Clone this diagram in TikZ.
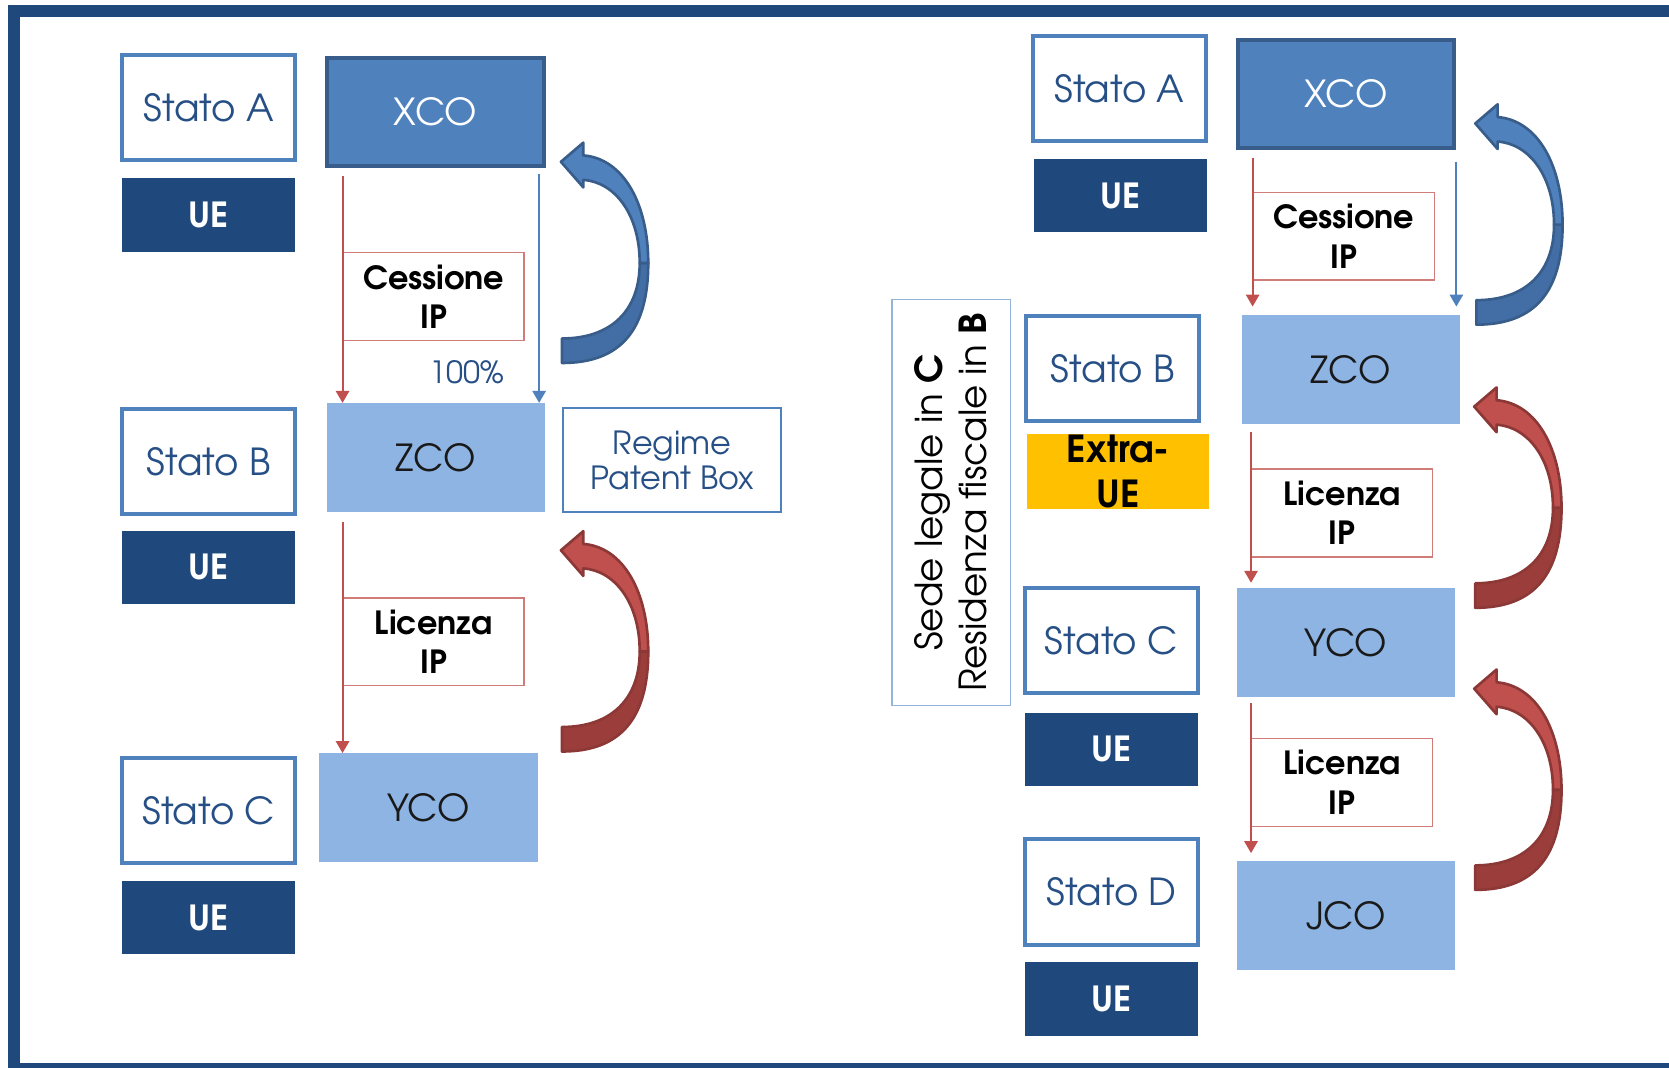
\documentclass[tikz,border=0pt]{standalone}
\usepackage{fontspec}
\setmainfont{texgyreadventor}[Extension=.otf,UprightFont=*-regular,BoldFont=*-bold]
\usetikzlibrary{arrows.meta}
\definecolor{ueblue}{HTML}{1F497D}
\definecolor{accent}{HTML}{4F81BD}
\definecolor{accentdark}{HTML}{385D8A}
\definecolor{bluefold}{HTML}{426EA5}
\definecolor{lightblue}{HTML}{8EB4E3}
\definecolor{redline}{HTML}{C0504D}
\definecolor{reddark}{HTML}{9B3E3B}
\definecolor{rededge}{HTML}{8C3836}
\definecolor{textblue}{HTML}{264F86}
\definecolor{sedeline}{HTML}{95B3D7}
\definecolor{extra}{HTML}{FFC000}
\tikzset{
	statebox/.style={draw=accent, line width=3pt, fill=white, text=textblue, minimum width=130pt, minimum height=79pt, font=\fontsize{28}{32}\selectfont},
	uebox/.style={fill=ueblue, text=white, minimum width=130pt, minimum height=55pt, font=\bfseries\fontsize{26}{32}\selectfont},
	xcobox/.style={draw=accentdark, line width=3pt, fill=accent, text=white, minimum width=163pt, minimum height=81pt, font=\fontsize{28}{32}\selectfont},
	cobox/.style={fill=lightblue, text=black!90, minimum width=164pt, minimum height=82pt, font=\fontsize{28}{32}\selectfont},
	ipbox/.style={draw=redline!75, line width=1.1pt, fill=white, align=center, minimum width=136pt, minimum height=66pt, font=\bfseries\fontsize{24}{29.5}\selectfont},
	regimebox/.style={draw=accent, line width=1.5pt, text=textblue, align=center, minimum width=164pt, minimum height=78pt, font=\fontsize{24}{27}\selectfont},
	sedebox/.style={draw=sedeline, line width=1pt, rotate=90, align=center, minimum width=305pt, minimum height=89pt, font=\fontsize{28}{33}\selectfont},
	extrabox/.style={fill=extra, align=center, inner sep=1pt, minimum width=137pt, minimum height=56pt, font=\bfseries\fontsize{28}{33.6}\selectfont},
	flow/.style={draw=redline, line width=1.5pt, -{Triangle[width=10pt,length=9pt]}},
	bflow/.style={flow, draw=accent},
	frame/.style={draw=ueblue, line width=9pt},
}
% curved arrow: x, y, front, back, edge
\newcommand\bendarrow[5]{%
	\begin{scope}[shift={(#1,#2)}, line width=2pt, line join=round]
		\filldraw[draw=#5, fill=#4] (0,71) .. controls (46,71) and (73,45) .. (73,0) -- (81,0) .. controls (81,62) and (56,94) .. (0,94) -- cycle;
		\filldraw[draw=#5, fill=#3] (73,0) .. controls (73,-45) and (50,-76) .. (20,-78) -- (20,-71) -- (-1,-95) -- (20,-113) -- (20,-101) .. controls (58,-98) and (81,-55) .. (81,0) -- cycle;
	\end{scope}}
\begin{document}
\begin{tikzpicture}[x=0.8pt, y=-0.8pt]
	\useasboundingbox (0,0) rectangle (1568,1003);
	\draw[frame] (1600,10) -- (13,10) -- (13,1004) -- (1600,1004);

	% left
	\node[statebox](SAL) at (196,101){Stato A};
	\node[uebox](UAL) at (196,202){UE};
	\node[xcobox](XL) at (409,105){XCO};
	\node[ipbox](CL) at (407.5,278.5){Cessione\\IP};
	\node[text=textblue, font=\fontsize{23}{24}\selectfont](PL) at (439,350){100\%};
	\node[cobox](ZL) at (409.5,430){ZCO};
	\node[regimebox](RL) at (631.5,432.5){Regime\\Patent Box};
	\node[statebox](SBL) at (196,433.5){Stato B};
	\node[uebox](UBL) at (196,533){UE};
	\node[ipbox](LL) at (407.5,603){Licenza\\IP};
	\node[cobox](YL) at (402.5,759){YCO};
	\node[statebox](SCL) at (196,761.5){Stato C};
	\node[uebox](UCL) at (196,862){UE};

	% right
	\node[statebox](SAR) at (1051.5,83){Stato A};
	\node[uebox](UAR) at (1052.5,184){UE};
	\node[xcobox](XR) at (1264.5,88){XCO};
	\node[ipbox](CR) at (1262.5,222){Cessione\\IP};
	\node[sedebox](SR) at (893.5,472){Sede legale in \textbf{C}\\Residenza fiscale in \textbf{B}};
	\node[statebox](SBR) at (1045.5,346){Stato B};
	\node[extrabox](EBR) at (1050.5,443){Extra-\\UE};
	\node[cobox](ZR) at (1269,347){ZCO};
	\node[ipbox](LR) at (1261,482){Licenza\\IP};
	\node[statebox](SCR) at (1044,601.5){Stato C};
	\node[uebox](UCR) at (1044,704){UE};
	\node[cobox](YR) at (1264.5,604){YCO};
	\node[ipbox](LRB) at (1261,735){Licenza\\IP};
	\node[statebox](SDR) at (1044,838){Stato D};
	\node[uebox](UDR) at (1044,938.5){UE};
	\node[cobox](JR) at (1264.5,860.5){JCO};

	\draw[flow] ([yshift=-6pt]CL.west |- XL.south) -- (CL.west |- ZL.north);
	\draw[bflow] ([xshift=-5pt,yshift=-5pt]XL.south east) -- ([xshift=-5pt]XL.south east |- ZL.north);
	\draw[flow] ([yshift=-7pt]LL.west |- ZL.south) -- (LL.west |- YL.north);

	\draw[flow] ([yshift=-6pt]CR.west |- XR.south) -- ([yshift=6pt]CR.west |- ZR.north);
	\draw[bflow] ([yshift=-9pt]XR.south east) -- ([yshift=6pt]XR.south east |- ZR.north);
	\draw[flow] ([yshift=-6pt]LR.west |- ZR.south) -- ([yshift=4pt]LR.west |- YR.north);
	\draw[flow] ([yshift=-4pt]LRB.west |- YR.south) -- ([yshift=6pt]LRB.west |- JR.north);

	\bendarrow{528}{247}{accent}{bluefold}{accentdark}
	\bendarrow{528}{612}{redline}{reddark}{rededge}
	\bendarrow{1387}{211}{accent}{bluefold}{accentdark}
	\bendarrow{1386}{477}{redline}{reddark}{rededge}
	\bendarrow{1386}{742}{redline}{reddark}{rededge}
\end{tikzpicture}
\end{document}
